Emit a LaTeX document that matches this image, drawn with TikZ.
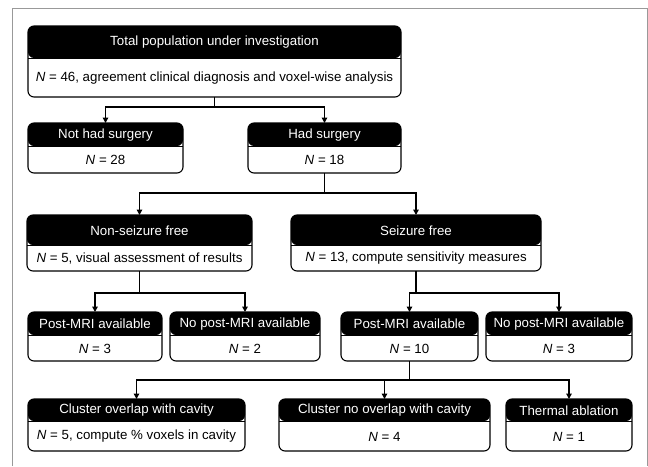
\documentclass[tikz,border=0pt]{standalone}
\usepackage{fontspec}
\setmainfont{Liberation Sans}
\usetikzlibrary{arrows.meta}
\tikzset{
  flow/.style={draw=black, line width=1.1pt, rounded corners=6pt, fill=white, inner sep=0pt, outer sep=0pt, anchor=north west},
  headtxt/.style={text=white, font=\fontsize{13.3}{15}\selectfont, inner sep=0pt},
  bodytxt/.style={text=black, font=\fontsize{13.3}{15}\selectfont, inner sep=0pt},
  conn/.style={line width=1.6pt, draw=black},
  arr/.style={conn, -{Triangle[length=5.5pt,width=5.5pt]}},
  frameline/.style={draw=gray!80, line width=1pt}
}
% #1 name, #2 x1, #3 y1, #4 x2, #5 y2, #6 header bottom, #7 header, #8 body
\newcommand\flowbox[8]{%
  \node[flow, minimum width={(#4-#2)*1pt}, minimum height={(#5-#3)*1pt},
    path picture={\fill[black] (path picture bounding box.north west) rectangle ([yshift={-(#6-#3)*1pt}]path picture bounding box.north east);
      \draw[black, line width=1pt] ([yshift={-(#6-#3)*1pt}]path picture bounding box.north west) -- ([yshift={-(#6-#3)*1pt}]path picture bounding box.north east);}]
    (#1) at (#2,#3) {};
  \node[headtxt] (#1-h) at ({(#2+#4)/2},{(#3+#6)/2+0.5}) {#7};
  \node[bodytxt] (#1-b) at ({(#2+#4)/2},{(#6+#5)/2+0.5}) {#8};
}
\begin{document}
\begin{tikzpicture}[x=1pt,y=-1pt]
\useasboundingbox (0,0) rectangle (648,466);
\draw[frameline] (12,466) -- (12,8.5) -- (647,8.5) -- (647,466);

\flowbox{top}{28}{26}{401}{97}{58}{Total population under investigation}{\textit{N} = 46, agreement clinical diagnosis and voxel-wise analysis}
\flowbox{nhs}{28}{123}{183}{173}{146}{Not had surgery}{\textit{N} = 28}
\flowbox{hs}{248}{123}{401}{173}{146}{Had surgery}{\textit{N} = 18}
\flowbox{nsf}{27}{215}{252}{271}{245}{Non-seizure free}{\textit{N} = 5, visual assessment of results}
\flowbox{sf}{291}{215}{541}{271}{245}{Seizure free}{\textit{N} = 13, compute sensitivity measures}
\flowbox{pma}{28}{312}{162}{361}{335}{Post-MRI available}{\textit{N} = 3}
\flowbox{npma}{170}{312}{320}{361}{335}{No post-MRI available}{\textit{N} = 2}
\flowbox{pmb}{341}{312}{478}{361}{335}{Post-MRI available}{\textit{N} = 10}
\flowbox{npmb}{486}{312}{632}{361}{335}{No post-MRI available}{\textit{N} = 3}
\flowbox{co}{28}{399}{245}{451}{421}{Cluster overlap with cavity}{\textit{N} = 5, compute \% voxels in cavity}
\flowbox{cno}{279}{399}{490}{451}{421}{Cluster no overlap with cavity}{\textit{N} = 4}
\flowbox{ta}{506}{399}{632}{451}{421}{Thermal ablation}{\textit{N} = 1}

\coordinate (j1) at (top.south |- 0,107);
\coordinate (j2) at (hs.south |- 0,193);
\coordinate (j3) at (nsf.south |- 0,293);
\coordinate (j4) at (sf.south |- 0,293);
\coordinate (j5) at (pmb.south |- 0,380);

\draw[conn] (top.south) -- (j1);
\draw[arr] (j1) -| (nhs.north);
\draw[arr] (j1) -| (hs.north);
\draw[conn] (hs.south) -- (j2);
\draw[arr] (j2) -| (nsf.north);
\draw[arr] (j2) -| (sf.north);
\draw[conn] (nsf.south) -- (j3);
\draw[arr] (j3) -| (pma.north);
\draw[arr] (j3) -| (npma.north);
\draw[conn] (sf.south) -- (j4);
\draw[arr] (j4) -| (pmb.north);
\draw[arr] (j4) -| (npmb.north);
\draw[conn] (pmb.south) -- (j5);
\draw[arr] (j5) -| (co.north);
\draw[arr] (j5) -| (cno.north);
\draw[arr] (j5) -| (ta.north);
\end{tikzpicture}
\end{document}
